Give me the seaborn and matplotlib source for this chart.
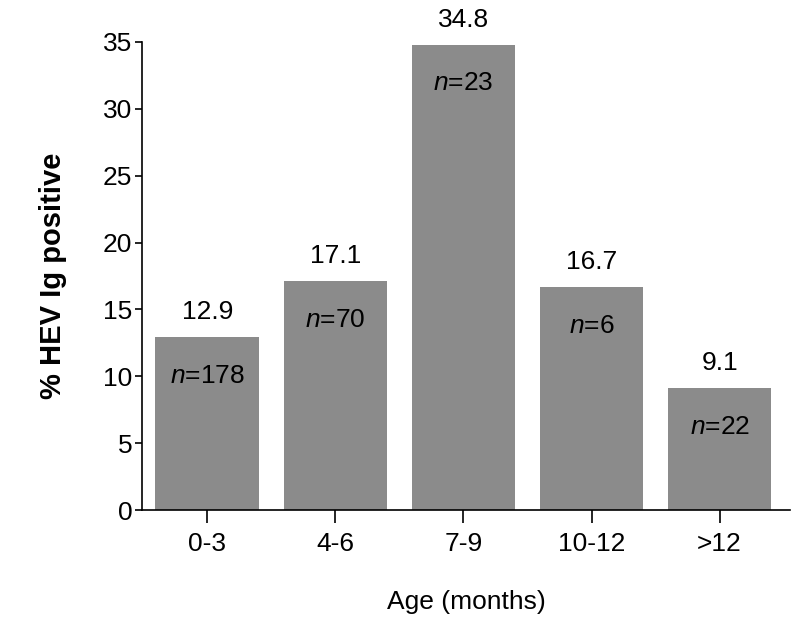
import matplotlib
matplotlib.use("Agg")
import matplotlib.pyplot as plt
import seaborn as sns
import pandas as pd

# ==========================================================
# DATA
# ==========================================================

age_groups = ["0-3", "4-6", "7-9", "10-12", ">12"]
pct_positive = [12.9, 17.1, 34.8, 16.7, 9.1]
n_samples = [178, 70, 23, 6, 22]

df = pd.DataFrame({"Age": age_groups, "Pct": pct_positive, "N": n_samples})

# ==========================================================
# STYLE
# ==========================================================

sns.set_style("ticks")
plt.rcParams["font.family"] = ["Liberation Sans", "DejaVu Sans"]
plt.rcParams["mathtext.fontset"] = "custom"
plt.rcParams["mathtext.it"] = "Liberation Sans:italic"
plt.rcParams["mathtext.rm"] = "Liberation Sans"
plt.rcParams["text.color"] = "black"
plt.rcParams["axes.labelcolor"] = "black"
plt.rcParams["xtick.color"] = "black"
plt.rcParams["ytick.color"] = "black"
plt.rcParams["axes.edgecolor"] = "black"

fig = plt.figure(figsize=(8, 6.25), dpi=100)
ax = fig.add_axes([0.1775, 0.184, 0.81, 0.749])

sns.barplot(data=df, x="Age", y="Pct", color="#8b8b8b", saturation=1,
            width=0.81, linewidth=0, ax=ax)

for i, (v, n) in enumerate(zip(pct_positive, n_samples)):
    ax.annotate(f"{v}", (i, v), xytext=(0, 18), textcoords="offset points",
                ha="center", va="center", fontsize=19)
    ax.annotate(f"$\\mathit{{n}}$=" + str(n), (i, v), xytext=(0, -28),
                textcoords="offset points", ha="center", va="center",
                fontsize=19)

ax.set_ylim(0, 35)
ax.set_yticks(range(0, 36, 5))
ax.set_xlim(-0.51, 4.55)

ax.set_xlabel("Age (months)", fontsize=19, labelpad=24)
ax.set_ylabel("% HEV Ig positive", fontsize=21, fontweight="bold", labelpad=26)

ax.tick_params(axis="y", labelsize=19, length=5, width=1.2, pad=2)
ax.tick_params(axis="x", labelsize=19, length=9, width=1.2, pad=7)

for s in ["top", "right"]:
    ax.spines[s].set_visible(False)
for s in ["left", "bottom"]:
    ax.spines[s].set_linewidth(1.2)

fig.savefig("out.png", dpi=100)
